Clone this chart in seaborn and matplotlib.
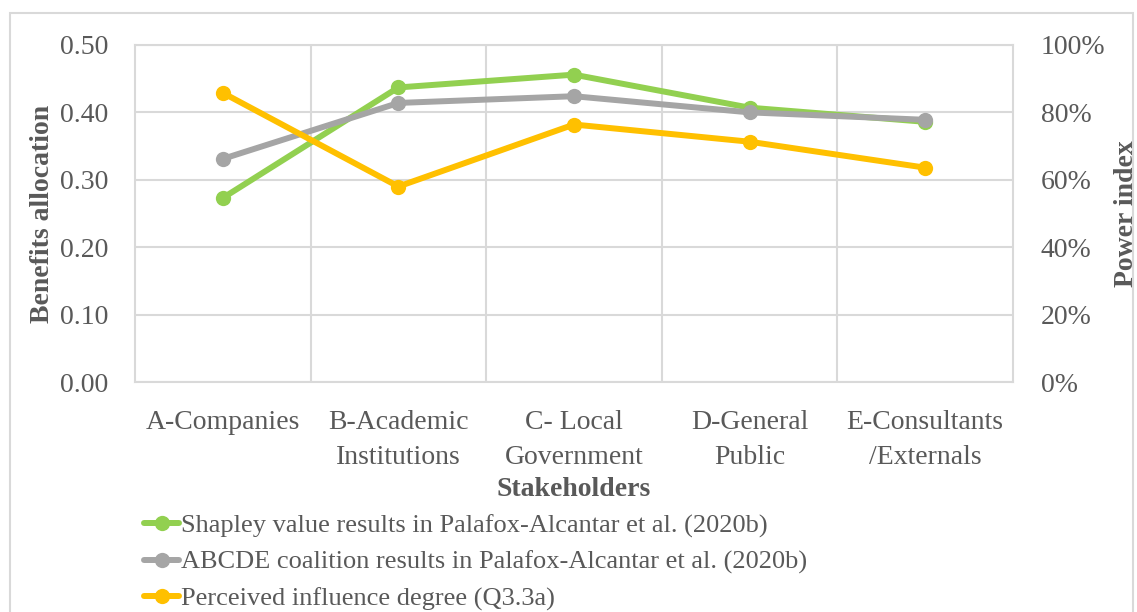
import pandas as pd
import matplotlib.pyplot as plt
import seaborn as sns
from matplotlib.patches import Rectangle
from matplotlib.ticker import PercentFormatter, FixedLocator

# Data
stakeholders = ['A-Companies', 'B-Academic\nInstitutions', 'C- Local\nGovernment',
                'D-General\nPublic', 'E-Consultants\n/Externals']
shapley = [0.273, 0.437, 0.456, 0.407, 0.386]
abcde = [0.331, 0.414, 0.424, 0.400, 0.389]
perceived = [85.8, 58.0, 76.4, 71.3, 63.6]   # power index, %

shapley_name = 'Shapley value results in Palafox-Alcantar et al. (2020b)'
abcde_name = 'ABCDE coalition results in Palafox-Alcantar et al. (2020b)'
perceived_name = 'Perceived influence degree (Q3.3a)'

left_df = pd.DataFrame({
    'pos': list(range(5)) * 2,
    'value': shapley + abcde,
    'series': [shapley_name] * 5 + [abcde_name] * 5,
})
right_df = pd.DataFrame({'pos': range(5), 'value': perceived})

sns.set_style("white")
plt.rcParams['font.family'] = ['Liberation Serif', 'DejaVu Serif']

green = '#92D050'
gray = '#A5A5A5'
orange = '#FFC000'
grid_c = '#D9D9D9'
text_c = '#595959'
fs = 20

fig = plt.figure(figsize=(11.37, 6.12), dpi=100)
ax = fig.add_axes([0.1187, 0.3758, 0.7722, 0.5507])
ax2 = ax.twinx()

sns.lineplot(data=left_df, x='pos', y='value', hue='series',
             hue_order=[shapley_name, abcde_name], palette=[green, gray],
             marker='o', markersize=11, markeredgewidth=0, linewidth=4.3,
             ax=ax, legend=False)
sns.lineplot(data=right_df, x='pos', y='value', color=orange,
             marker='o', markersize=11, markeredgewidth=0, linewidth=4.3,
             ax=ax2, legend=False)

ax.set_xlim(-0.5, 4.5)
ax.set_ylim(0, 0.5)
ax2.set_ylim(0, 100)
yt = [0, 0.1, 0.2, 0.3, 0.4, 0.5]
ax.set_yticks(yt)
ax.set_yticklabels([f'{v:.2f}' for v in yt])
ax2.set_yticks([0, 20, 40, 60, 80, 100])
ax2.yaxis.set_major_formatter(PercentFormatter(decimals=0))
ax.set_xticks(range(5))
ax.set_xticklabels(stakeholders, linespacing=1.55)
ax.xaxis.set_minor_locator(FixedLocator([0.5, 1.5, 2.5, 3.5]))

ax.grid(True, axis='y', which='major', color=grid_c, linewidth=1.5)
ax.grid(True, axis='x', which='minor', color=grid_c, linewidth=1.5)
ax.grid(False, axis='x', which='major')
ax.set_axisbelow(True)
for s in ax.spines.values():
    s.set_color(grid_c)
    s.set_linewidth(1.5)
for s in ax2.spines.values():
    s.set_visible(False)

ax.tick_params(axis='both', which='both', length=0, labelsize=fs, labelcolor=text_c)
ax.tick_params(axis='y', pad=19)
ax.tick_params(axis='x', pad=20)
ax2.tick_params(axis='y', length=0, labelsize=fs, labelcolor=text_c, pad=20)

ax.set_xlabel('Stakeholders', fontsize=fs, fontweight='bold', color=text_c, labelpad=5)
ax.set_ylabel('Benefits allocation', fontsize=fs, fontweight='bold', color=text_c)
ax.yaxis.set_label_coords(-0.091, 0.5)
ax2.set_ylabel('Power index', fontsize=fs, fontweight='bold', color=text_c)
ax2.yaxis.set_label_coords(1.115, 0.5)

# legend built from the drawn lines
handles = ax.get_lines()[:2] + ax2.get_lines()[:1]
leg = fig.legend(handles, [shapley_name, abcde_name, perceived_name],
                 loc='upper left', bbox_to_anchor=(0.127, 0.160),
                 frameon=False, fontsize=19, handlelength=1.3, handletextpad=0.1,
                 labelspacing=0.47, borderaxespad=0, borderpad=0)
for t in leg.get_texts():
    t.set_color(text_c)

# outer chart border
fig.patches.append(Rectangle((10 / 1137, -0.02), 1123 / 1137, 1.02 - 13 / 612,
                             transform=fig.transFigure, fill=False,
                             edgecolor=grid_c, linewidth=1.5))

fig.savefig('out.png', dpi=100)
